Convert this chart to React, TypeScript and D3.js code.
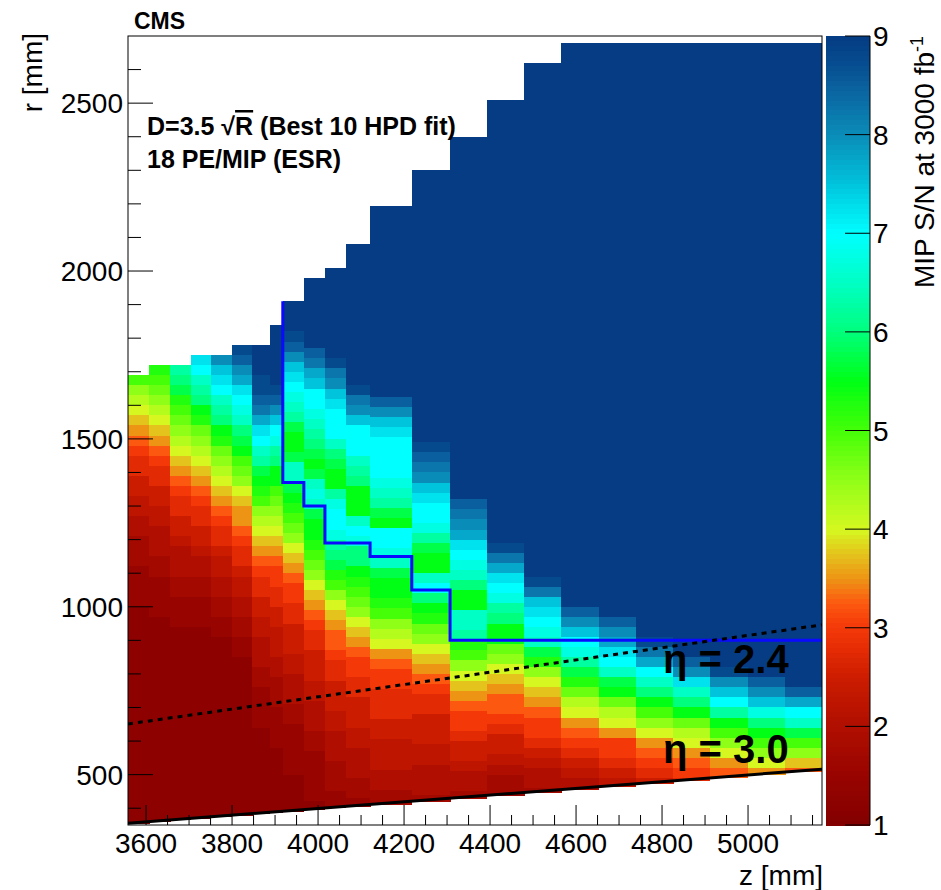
import React from "react";
import * as d3 from "d3";

// ---- data ----
// column (z) bin edges in mm
const zEdges = [3558, 3607, 3656, 3704, 3751, 3799, 3847, 3888, 3918, 3967, 4016, 4064, 4121, 4218, 4307, 4392, 4479, 4566, 4653, 4739, 4826, 4911, 4999, 5087, 5172];
// top radius of each column (mm)
const colTopR = [1690, 1720, 1720, 1750, 1750, 1780, 1780, 1840, 1910, 1980, 2010, 2080, 2195, 2300, 2400, 2510, 2620, 2680, 2680, 2680, 2680, 2680, 2680, 2680];
// number of saturated (S/N >= 9) rows at the top of each column
const saturatedRows = [0, 0, 0, 0, 0, 0, 3, 6, 3, 7, 9, 14, 19, 27, 36, 44, 51, 56, 57, 59, 61, 62, 63, 64];
// S/N per 30 mm row, going down from the saturated part; char c -> 1 + parseInt(c,36)/4
const profiles = [
  "gedcba98776655443332222111111111111111111111111111",
  "hgfedcba9877665544433222211111111111111111111111111",
  "lkjhgfedcba98776654443322211111111111111111111111",
  "pomlkihfedcba987766544332221111111111111111111111",
  "sqpomlkihfedcba98776554433221111111111111111111111",
  "vusrponmkjigfecbaa98776554433221111111111111111111",
  "vvutrpomljihgedcba98776655444332222111111111111",
  "vusqonlkiigfedcba98877665554433322221111111111",
  "vusqponmljiijmmjihgfecba9887766655444332222211111111",
  "utrqoonmlkjijmnmjiihgfecba98776665544433222221111",
  "vtsqpooomkjiilnoonlkjhgecba9987766655444333222222",
  "vtsqooomlkiiimonkkihgfecba98877666554443322222",
  "usqpoooonmljioonmjiihgedca9887776655544333333",
  "vutsqpoonljiimokihfecba98776665544433333",
  "utsrponmkiimmlhgecba988766544333",
  "vtrponlkiifecba9987665433222",
  "vtqponmjhecba98876544333",
  "usqonljhfdca98765444",
  "usrpomjifdca88765444",
  "vtromkigeca9876666",
  "uspmkifdca98777",
  "vsqoligeca9888",
  "usqnkigeca999",
  "uromjgeb999",
];
const ROW_MM = 30;

// blue boundary (step line): z of each drop, r after the drop
const blueZ = [3918, 3918, 3967, 4016, 4121, 4218, 4307, 5172];
const blueR = [1910, 1370, 1300, 1190, 1150, 1050, 900, 900];

const etaLines = [2.4, 3.0];
const etaDashed = [true, false];
const etaLabels = ["η = 2.4", "η = 3.0"];

const xTicks = [3600, 3800, 4000, 4200, 4400, 4600, 4800, 5000];
const yTicks = [500, 1000, 1500, 2000, 2500];
const zTicks = [1, 2, 3, 4, 5, 6, 7, 8, 9];

const paletteValues = [1, 1.5, 2, 2.5, 2.75, 3, 3.25, 3.5, 3.75, 4, 4.5, 5, 5.5, 6, 6.5, 7, 7.5, 8, 8.5, 8.75, 9];
const paletteColors = ["#820000", "#980400", "#b00e00", "#cc1c00", "#e22a04", "#f43808", "#fc5810", "#ee9414", "#e4c41c", "#d6f820", "#90ff18", "#44ff08", "#00ff14", "#00ff7c", "#00ffc4", "#00ffff", "#00c4dc", "#0a8cb8", "#0a609e", "#064a8e", "#053c84"];

// ---- layout ----
const W = 941, H = 890;
const M = { left: 128, right: 822, top: 36, bottom: 825 };
const CB = { left: 826, right: 870 };
const FONT = "'Liberation Sans', Arial, Helvetica, sans-serif";

const etaR = (eta: number, z: number) => z * Math.tan(2 * Math.atan(Math.exp(-eta)));

export default function App() {
  const x = d3.scaleLinear().domain([zEdges[0], zEdges[zEdges.length - 1]]).range([M.left, M.right]);
  const y = d3.scaleLinear().domain([350, 2700]).range([M.bottom, M.top]);
  const yc = d3.scaleLinear().domain([1, 9]).range([M.bottom, M.top]);
  const color = d3.scaleLinear<string>().domain(paletteValues).range(paletteColors).interpolate(d3.interpolateRgb).clamp(true);

  const cells: { x: number; y: number; w: number; h: number; fill: string }[] = [];
  profiles.forEach((prof, c) => {
    const zL = zEdges[c], zR = zEdges[c + 1];
    const floor = etaR(3.0, zL);
    const n = saturatedRows[c] + prof.length;
    for (let i = 0; i < n; i++) {
      const rTop = colTopR[c] - i * ROW_MM;
      if (rTop <= floor) break;
      const rBot = Math.max(rTop - ROW_MM, floor);
      const v = i < saturatedRows[c] ? 9 : 1 + parseInt(prof[i - saturatedRows[c]], 36) / 4;
      cells.push({ x: x(zL), y: y(rTop), w: x(zR) - x(zL), h: y(rBot) - y(rTop), fill: color(v) });
    }
  });

  const zDom = x.domain();
  const etaPaths = etaLines.map((eta) =>
    d3.line<number>().x((z) => x(z)).y((z) => y(etaR(eta, z)))([zDom[0], zDom[1]]) as string
  );
  const bluePath = d3.line<number>().x((_, i) => x(blueZ[i])).y((_, i) => y(blueR[i])).curve(d3.curveStepAfter)(blueZ) as string;

  const xMinor = d3.range(3600, zDom[1], 50).filter((v) => v % 200 !== 0);
  const yMinor = d3.range(400, 2700, 100).filter((v) => v % 500 !== 0);

  const cbSteps = d3.range(1, 9, 0.05);

  return (
    <div style={{ position: "absolute", left: 0, top: 0, width: W, height: H, background: "#fff" }}>
      <svg width={W} height={H} style={{ display: "block", fontFamily: FONT }}>
        <defs>
          <clipPath id="plotclip">
            <rect x={M.left} y={M.top} width={M.right - M.left} height={M.bottom - M.top} />
          </clipPath>
        </defs>
        <rect x={0} y={0} width={W} height={H} fill="#fff" />
        <g clipPath="url(#plotclip)" shapeRendering="crispEdges">
          {cells.map((c, i) => (
            <rect key={i} x={c.x} y={c.y} width={c.w + 0.5} height={c.h + 0.4} fill={c.fill} />
          ))}
        </g>
        <g clipPath="url(#plotclip)">
          <path d={bluePath} fill="none" stroke="#0a0aff" strokeWidth={3} />
          {etaPaths.map((d, i) => (
            <path key={i} d={d} fill="none" stroke="#000" strokeWidth={3} strokeDasharray={etaDashed[i] ? "5,5" : undefined} />
          ))}
        </g>
        {/* frame */}
        <rect x={M.left} y={M.top} width={M.right - M.left} height={M.bottom - M.top} fill="none" stroke="#000" strokeWidth={1} />
        {/* ticks */}
        <g stroke="#000" strokeWidth={1}>
          {xTicks.map((t) => (
            <line key={"xt" + t} x1={x(t)} x2={x(t)} y1={M.bottom} y2={M.bottom - 20} />
          ))}
          {xMinor.map((t) => (
            <line key={"xm" + t} x1={x(t)} x2={x(t)} y1={M.bottom} y2={M.bottom - 10} />
          ))}
          {yTicks.map((t) => (
            <line key={"yt" + t} x1={M.left} x2={M.left + 25} y1={y(t)} y2={y(t)} />
          ))}
          {yMinor.map((t) => (
            <line key={"ym" + t} x1={M.left} x2={M.left + 13} y1={y(t)} y2={y(t)} />
          ))}
        </g>
        <g fontSize={28} fill="#000">
          {xTicks.map((t) => (
            <text key={"xl" + t} x={x(t)} y={853} textAnchor="middle">{t}</text>
          ))}
          {yTicks.map((t) => (
            <text key={"yl" + t} x={123} y={y(t)} dy="0.36em" textAnchor="end">{t}</text>
          ))}
          <text x={823} y={885} textAnchor="end">z [mm]</text>
          <text transform={`translate(42,33) rotate(-90)`} textAnchor="end">r [mm]</text>
        </g>
        {/* colour bar */}
        <g shapeRendering="crispEdges">
          {cbSteps.map((v, i) => (
            <rect key={i} x={CB.left} y={yc(v + 0.05)} width={CB.right - CB.left} height={yc(v) - yc(v + 0.05) + 0.5} fill={color(v + 0.025)} />
          ))}
        </g>
        <line x1={CB.right} x2={CB.right} y1={M.top} y2={M.bottom} stroke="#000" strokeWidth={1} />
        <g stroke="#000" strokeWidth={1}>
          {zTicks.map((t) => (
            <line key={"ct" + t} x1={CB.right} x2={CB.right - 25} y1={yc(t)} y2={yc(t)} />
          ))}
        </g>
        <g fontSize={28} fill="#000">
          {zTicks.map((t) => (
            <text key={"cl" + t} x={873} y={yc(t)} dy="0.36em">{t}</text>
          ))}
          <text transform={`translate(934,36) rotate(-90)`} textAnchor="end">
            MIP S/N at 3000 fb<tspan dy={-11} fontSize={18}>-1</tspan>
          </text>
        </g>
        {/* annotations */}
        <g fontWeight="bold" fill="#000">
          <text x={134} y={29} fontSize={23}>CMS</text>
          <text x={147} y={135} fontSize={25}>
            D=3.5 √<tspan style={{ textDecoration: "overline" }}>R</tspan> (Best 10 HPD fit)
          </text>
          <text x={147} y={168} fontSize={25}>18 PE/MIP (ESR)</text>
          <text x={663} y={673} fontSize={40}>{etaLabels[0]}</text>
          <text x={663} y={763} fontSize={40}>{etaLabels[1]}</text>
        </g>
      </svg>
    </div>
  );
}
